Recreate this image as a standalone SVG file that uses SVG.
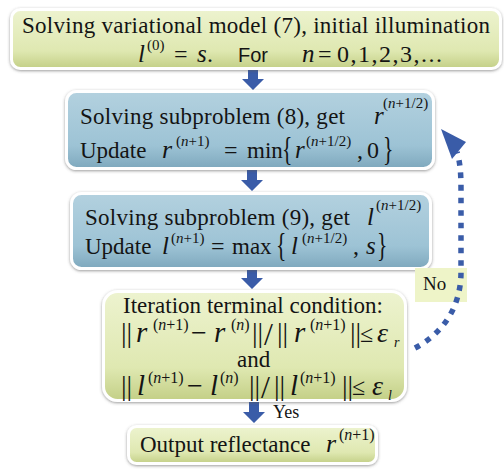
<svg xmlns="http://www.w3.org/2000/svg" width="504" height="469" viewBox="0 0 504 469">
  <style>
    text { fill: #141414; }
    .t { font-size: 23px; }
    .m { font-style: italic; }
    .u { font-style: normal; }
    .sans { font-family: "Liberation Sans", Arial, sans-serif; }
    .box { stroke: #ffffff; stroke-width: 3; filter: url(#shadow); }
    .green { fill: url(#gGreen); }
    .blue { fill: url(#gBlue); }
    .blk { fill: #3a5ca8; }
    .dots { fill: none; stroke: #3a5ca8; stroke-width: 5.5; stroke-dasharray: 5.5 7; }
  </style>
  <defs>
    <linearGradient id="gGreen" x1="0" y1="0" x2="0" y2="1">
      <stop offset="0" stop-color="#edf3cf"/>
      <stop offset="0.7" stop-color="#dfe8b1"/>
      <stop offset="1" stop-color="#c3cf86"/>
    </linearGradient>
    <linearGradient id="gBlue" x1="0" y1="0" x2="0" y2="1">
      <stop offset="0" stop-color="#b3d1df"/>
      <stop offset="0.7" stop-color="#9dc3d5"/>
      <stop offset="1" stop-color="#7ea8bd"/>
    </linearGradient>
    <filter id="shadow" x="-10%" y="-20%" width="120%" height="140%">
      <feDropShadow dx="0" dy="1" stdDeviation="1.6" flood-color="#555" flood-opacity="0.6"/>
    </filter>
    <!-- block arrow pointing down, origin at top centre -->
    <path id="blkArrow" d="M-5,0 H5 V10 H11 L0,21 L-11,10 H-5 Z"/>
  </defs>

  <g font-family="Liberation Serif, Times New Roman, serif">

  <!-- forward arrows -->
  <g id="connectors">
    <use href="#blkArrow" class="blk" transform="translate(253,69)"/>
    <use href="#blkArrow" class="blk" transform="translate(252,170)"/>
    <use href="#blkArrow" class="blk" transform="translate(252,268)"/>
    <use href="#blkArrow" class="blk" transform="translate(254,402)"/>
    <text class="u" x="273" y="418" font-size="18">Yes</text>
  </g>

  <!-- step 1: initialisation -->
  <g id="init">
    <rect class="box green" x="11.5" y="9.5" width="489" height="59" rx="9"/>
    <text class="t" x="22" y="33" textLength="468" lengthAdjust="spacing">Solving  variational model (7), initial illumination</text>
    <text class="m" x="138" y="62" font-size="25">l</text>
    <text class="u" x="147" y="50" font-size="15">(0)</text>
    <text class="u" x="174" y="62" font-size="24">=</text>
    <text class="m" x="197" y="62" font-size="25">s</text>
    <text class="u" x="207" y="62" font-size="24">.</text>
    <text class="sans" x="238" y="62" font-size="20">For</text>
    <text class="m" x="302" y="62" font-size="25">n</text>
    <text class="u" x="318" y="62" font-size="24">=</text>
    <text class="u" x="337" y="62" font-size="24" textLength="105" lengthAdjust="spacing">0,1,2,3,...</text>
  </g>

  <!-- step 2: reflectance subproblem -->
  <g id="sub-r">
    <rect class="box blue" x="66.5" y="91.5" width="367" height="77" rx="10"/>
    <text class="t" x="80" y="124" font-size="22" textLength="265" lengthAdjust="spacing">Solving subproblem (8),  get</text>
    <text class="m" x="374" y="124" font-size="25">r</text>
    <text class="u" x="383" y="108" font-size="15">(<tspan class="m">n</tspan>+1/2)</text>
    <text class="t" x="80" y="158" font-size="22">Update</text>
    <text class="m" x="162" y="158" font-size="26">r</text>
    <text class="u" x="176" y="146" font-size="15">(<tspan class="m">n</tspan>+1)</text>
    <text class="u" x="224" y="158" font-size="24">=</text>
    <text class="u" x="247" y="158" font-size="23">min</text>
    <text class="u" font-size="24" transform="translate(282,160) scale(0.9,1.4)">{</text>
    <text class="m" x="295" y="158" font-size="25">r</text>
    <text class="u" x="306" y="146" font-size="15">(<tspan class="m">n</tspan>+1/2)</text>
    <text class="u" x="357" y="158" font-size="24">,</text>
    <text class="u" x="367" y="158" font-size="24">0</text>
    <text class="u" font-size="24" transform="translate(383,160) scale(0.9,1.4)">}</text>
  </g>

  <!-- step 3: illumination subproblem -->
  <g id="sub-l">
    <rect class="box blue" x="71.5" y="193.5" width="359" height="75" rx="10"/>
    <text class="t" x="85" y="225" font-size="22" textLength="265" lengthAdjust="spacing">Solving subproblem (9),  get</text>
    <text class="m" x="367" y="225" font-size="25">l</text>
    <text class="u" x="376" y="210" font-size="15">(<tspan class="m">n</tspan>+1/2)</text>
    <text class="t" x="85" y="254" font-size="22">Update</text>
    <text class="m" x="162" y="254" font-size="25">l</text>
    <text class="u" x="171" y="243" font-size="15">(<tspan class="m">n</tspan>+1)</text>
    <text class="u" x="211" y="254" font-size="24">=</text>
    <text class="u" x="232" y="254" font-size="23">max</text>
    <text class="u" font-size="24" transform="translate(276,256) scale(0.9,1.4)">{</text>
    <text class="m" x="291" y="254" font-size="25">l</text>
    <text class="u" x="302" y="243" font-size="15">(<tspan class="m">n</tspan>+1/2)</text>
    <text class="u" x="353" y="254" font-size="24">,</text>
    <text class="m" x="366" y="254" font-size="25">s</text>
    <text class="u" font-size="24" transform="translate(377,256) scale(0.9,1.4)">}</text>
  </g>

  <!-- step 4: stopping test -->
  <g id="stop">
    <rect class="box green" x="103.5" y="291.5" width="302" height="109" rx="14"/>
    <text class="t" x="123" y="313" textLength="260" lengthAdjust="spacing">Iteration terminal condition:</text>
    <!-- relative change of r -->
    <text class="u" x="121" y="342" font-size="28">||</text>
    <text class="m" x="136" y="342" font-size="29">r</text>
    <text class="u" x="153" y="330" font-size="16">(<tspan class="m">n</tspan>+1)</text>
    <text class="u" x="191" y="342" font-size="28">−</text>
    <text class="m" x="214" y="342" font-size="29">r</text>
    <text class="u" x="231" y="330" font-size="16">(<tspan class="m">n</tspan>)</text>
    <text class="u" x="252" y="342" font-size="28">||</text>
    <text class="u" x="264" y="345" font-size="32">/</text>
    <text class="u" x="277" y="342" font-size="28">||</text>
    <text class="m" x="294" y="342" font-size="29">r</text>
    <text class="u" x="310" y="330" font-size="16">(<tspan class="m">n</tspan>+1)</text>
    <text class="u" x="350" y="342" font-size="28">||</text>
    <text class="u" x="360" y="342" font-size="24">≤</text>
    <text class="m" x="377" y="342" font-size="28">ε</text>
    <text class="m" x="394" y="347" font-size="14">r</text>
    <text class="t" x="237" y="367">and</text>
    <!-- relative change of l -->
    <text class="u" x="121" y="395" font-size="28">||</text>
    <text class="m" x="137" y="395" font-size="29">l</text>
    <text class="u" x="148" y="383" font-size="16">(<tspan class="m">n</tspan>+1)</text>
    <text class="u" x="187" y="395" font-size="28">−</text>
    <text class="m" x="210" y="395" font-size="29">l</text>
    <text class="u" x="220" y="383" font-size="16">(<tspan class="m">n</tspan>)</text>
    <text class="u" x="249" y="395" font-size="28">||</text>
    <text class="u" x="261" y="398" font-size="32">/</text>
    <text class="u" x="274" y="395" font-size="28">||</text>
    <text class="m" x="290" y="395" font-size="29">l</text>
    <text class="u" x="300" y="383" font-size="16">(<tspan class="m">n</tspan>+1)</text>
    <text class="u" x="342" y="395" font-size="28">||</text>
    <text class="u" x="352" y="395" font-size="24">≤</text>
    <text class="m" x="372" y="395" font-size="28">ε</text>
    <text class="m" x="388" y="400" font-size="14">l</text>
  </g>

  <!-- step 5: output -->
  <g id="output">
    <rect class="box green" x="128.5" y="426.5" width="248" height="37" rx="8"/>
    <text class="t" x="140" y="452">Output reflectance</text>
    <text class="m" x="326" y="452" font-size="26">r</text>
    <text class="u" x="339" y="440" font-size="16">(<tspan class="m">n</tspan>+1)</text>
  </g>

  <!-- loop back when the test fails -->
  <g id="loop">
    <rect x="415" y="268" width="52" height="34" fill="#eef4c8"/>
    <text class="u" x="423" y="290" font-size="19">No</text>
    <path class="dots" d="M415,348 C440,335 461,310 461,272 L461,190 C461,172 460,162 457,152"/>
    <polygon class="blk" points="441,129 466,142 452,159"/>
  </g>

  </g>
</svg>
